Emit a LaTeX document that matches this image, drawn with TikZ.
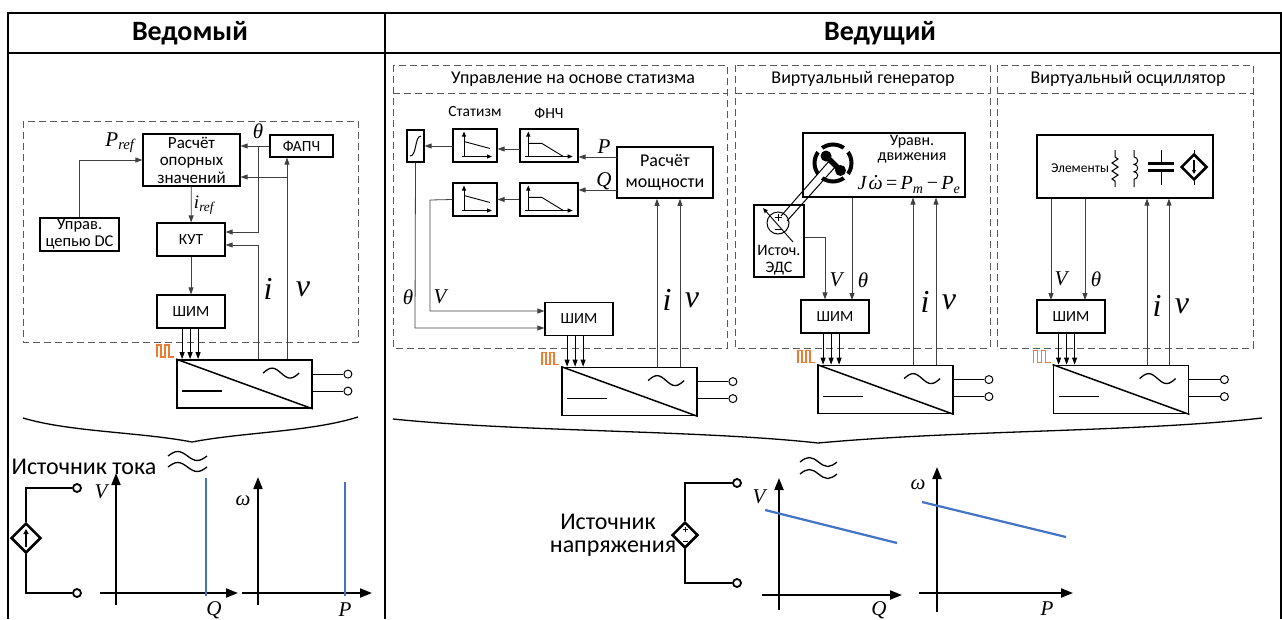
\documentclass[tikz,border=0pt]{standalone}
\usepackage{fontspec}
\setmainfont{Carlito}
\newfontfamily\tnr{Liberation Serif}
\usetikzlibrary{
  arrows.meta,
  shapes.geometric,
  chains,
  scopes,
  positioning
}
\definecolor{curveblue}{RGB}{68,114,196}
\definecolor{pulseorange}{RGB}{237,125,49}

\begin{document}
\begin{tikzpicture}[x=1pt,y=-1pt,
      block/.style={
         draw,
         line width=1.2pt,
         inner sep=1pt,
         align=center,
         font=\fontsize{15.5}{17.5}\selectfont
      },
      pwm/.style={block, minimum width=68, minimum height=33},
      icon/.style={block, minimum height=33},
      conv/.style={draw, line width=1.8pt, minimum width=135, minimum height=48, inner sep=0pt},
      panel/.style={draw=black!65, line width=0.9pt, dash pattern=on 7pt off 4pt},
      sig/.style={draw=black!75, line width=0.8pt},
      tip/.style={-{Triangle[length=7pt,width=5pt]}},
      small tip/.style={-{Triangle[length=5pt,width=4pt]}},
      axis/.style={line width=2pt, -{Triangle[length=12pt,width=9pt]}},
      term/.style={circle, draw, line width=1pt, minimum size=8pt, inner sep=0pt},
      var/.style={font=\tnr\itshape\fontsize{21}{21}\selectfont, inner sep=0pt},
      meas/.style={font=\tnr\itshape\fontsize{32}{32}\selectfont, inner sep=0pt},
      head/.style={font=\bfseries\fontsize{28}{30}\selectfont},
      title/.style={font=\fontsize{18}{20}\selectfont},
      droop line/.style={draw=curveblue, line width=2.2pt},
      every join/.style={sig},
      droop icon/.pic={
         \draw[line width=0.9pt, small tip] (-11,11) -- (-11,-14);
         \draw[line width=0.9pt, small tip] (-13,11) -- (17,11);
         \draw[line width=0.9pt] (-11,-4) -- (15,3);
      },
      lpf icon/.pic={
         \draw[line width=0.9pt, small tip] (-20.7,11) -- (-20.7,-14);
         \draw[line width=0.9pt, small tip] (-24,11) -- (23.7,11);
         \draw[line width=0.9pt] (-20.7,-2.2) -- (-7.3,-2.2) -- (14.3,11);
      }
    ]
  \useasboundingbox (0,0) rectangle (1282,619);

  % table frame
  \draw[line width=2.5pt] (8,619) -- (8,13) -- (1281,13) -- (1281,619);
  \draw[line width=2pt] (8,53) -- (1281,53);
  \draw[line width=2pt] (385,13) -- (385,619);
  \node[head] (hslave) at (190,33) {Ведомый};
  \node[head] (hmaster) at (880,33) {Ведущий};

  % ---- grid following (slave) ----
  \draw[panel] (23,121) rectangle (358,342);
  \node[block, minimum width=97, minimum height=52, font=\fontsize{17}{17.5}\selectfont] (calc) at (191.5,160) {Расчёт\\опорных\\значений};
  \node[block, minimum width=63, minimum height=22] (pll) at (301.5,146) {ФАПЧ};
  \node[block, minimum width=79, minimum height=33, font=\fontsize{16.5}{17}\selectfont] (dcc) at (79.5,234.5) {Управ.\\цепью DC};
  \node[block, minimum width=68, minimum height=33] (cc) at (191,239.5) {КУТ};
  \node[pwm] (pwm1) at (191,311.5) {ШИМ};
  \node[conv] (conv1) at (244.5,384) {};

  \draw[sig,tip] (dcc.north) |- (calc.west);
  \node[var] (pref) at (120,143) {P\textsubscript{ref}};
  \coordinate (th1) at (258,146);
  \coordinate (th1b) at (258,232);
  \draw[sig,tip] (pll.west) -- (pll.west -| calc.east);
  \draw[sig,tip] (th1) -- (th1b) -- (th1b -| cc.east);
  \node[var] (lth1) at (258,131) {θ};
  \coordinate (i1) at (258,245);
  \coordinate (v1) at (287,177);
  \draw[sig,tip] (conv1.north -| i1) -- (i1) -- (i1 -| cc.east);
  \draw[sig,tip] (conv1.north -| v1) -- (v1 |- pll.south);
  \draw[sig,tip] (v1) -- (v1 -| calc.east);
  \node[var, font=\tnr\itshape\fontsize{19}{19}\selectfont] (liref) at (204,205) {i\textsubscript{ref}};
  { [start chain]
       \chainin (calc);
       \chainin (cc)    [join=by tip];
  }
  { [start chain]
       \chainin (cc);
       \chainin (pwm1)  [join=by tip];
  }
  \node[meas] (li1) at (268,289) {i};
  \node[meas] (lv1) at (303,289) {v};

  % current source and its curves
  \draw[line width=1.3pt] (23,418) .. controls (70,432) and (140,432) .. (192,442)
                                   .. controls (244,432) and (310,432) .. (358,417);
  \node[font=\fontsize{24}{26}\selectfont] (lcs) at (84,467) {Источник тока};
  \draw[line width=1.3pt] (168,456) sin ++(9.75,-4.5) cos ++(9.75,4.5) sin ++(9.75,4.5) cos ++(9.75,-4.5);
  \draw[line width=1.3pt] (168,467) sin ++(9.75,-4.5) cos ++(9.75,4.5) sin ++(9.75,4.5) cos ++(9.75,-4.5);
  \node[diamond, draw, line width=2.5pt, minimum width=30, minimum height=30, inner sep=0pt] (isrc) at (26,538) {};
  \draw[line width=1.6pt, -{Triangle[length=5pt,width=5pt]}] (26,547) -- (26,529);
  \node[term, line width=1.8pt] (ita) at (77,488) {};
  \node[term, line width=1.8pt] (itb) at (77,593) {};
  \draw[line width=2pt] (ita) -| (isrc);
  \draw[line width=2pt] (itb) -| (isrc);
  \draw[axis] (116,605) -- (116,473);
  \draw[axis] (100,593) -- (238,593);
  \node[var] (lV1) at (101,492) {V};
  \node[var] (lQ1) at (214,610) {Q};
  \draw[droop line] (206,478) -- (206,596);
  \draw[axis] (258,605) -- (258,477);
  \draw[axis] (242,593) -- (372,593);
  \node[var] (lw1) at (243,501) {ω};
  \node[var] (lP1) at (345,610) {P};
  \draw[droop line] (345,482) -- (345,596);

  % ---- droop control ----
  \draw[panel] (393,65) rectangle (727,348);
  \draw[panel] (393,93) -- (727,93);
  \node[title] (tdroop) at (573,79) {Управление на основе статизма};
  \node[font=\fontsize{15.5}{17}\selectfont] (ldr) at (475,112) {Статизм};
  \node[font=\fontsize{15.5}{17}\selectfont] (llpf) at (549,113) {ФНЧ};
  \node[block, minimum width=17, minimum height=32, inner sep=0pt] (integ) at (415.5,146) {};
  \draw[line width=1pt] (410,156) .. controls (417,156) and (414.5,136) .. (421,136);
  \node[icon, minimum width=44] (dr1) at (475,145.5) {};
  \node[icon, minimum width=58] (lpf1) at (549,145.5) {};
  \node[icon, minimum width=44] (dr2) at (475,199.5) {};
  \node[icon, minimum width=58] (lpf2) at (549,199.5) {};
  \pic at (dr1) {droop icon};
  \pic at (dr2) {droop icon};
  \pic at (lpf1) {lpf icon};
  \pic at (lpf2) {lpf icon};
  \node[block, line width=1.6pt, minimum width=96, minimum height=51, font=\fontsize{18}{21}\selectfont] (pcalc) at (665,172.5) {Расчёт\\мощности};
  \node[pwm] (pwm2) at (579,319) {ШИМ};
  \node[conv] (conv2) at (629.5,391.5) {};

  \coordinate (pP) at (617,157);
  \coordinate (pQ) at (617,190);
  \coordinate (l1) at (520,149);
  \coordinate (d1) at (453,146);
  \draw[sig,tip] (pP) -- (pP -| lpf1.east);
  \draw[sig,tip] (pQ) -- (pQ -| lpf2.east);
  \draw[sig,tip] (l1) -- (l1 -| dr1.east);
  \draw[sig,tip] (d1) -- (d1 -| integ.east);
  { [start chain]
       \chainin (lpf2);
       \chainin (dr2)   [join=by tip];
  }
  \node[var] (lP2) at (604,147) {P};
  \node[var] (lQ2) at (604,181) {Q};
  \coordinate (vb) at (430,200);
  \coordinate (vc) at (430,311);
  \coordinate (tc) at (415,328);
  \draw[sig,tip] (dr2.west) -- (vb) -- (vc) -- (vc -| pwm2.west);
  \draw[sig,tip] (integ.south) -- (tc) -- (tc -| pwm2.west);
  \node[var] (lth2) at (408,297) {θ};
  \node[var] (lV2) at (440,297) {V};
  \coordinate (i2) at (657,367);
  \coordinate (v2) at (680,367);
  \draw[sig,tip] (i2) -- (i2 |- pcalc.south);
  \draw[sig,tip] (v2) -- (v2 |- pcalc.south);
  \node[meas] (li2) at (667,300) {i};
  \node[meas] (lv2) at (692,300) {v};

  % ---- virtual generator ----
  \draw[panel] (735,65) rectangle (990,348);
  \draw[panel] (735,93) -- (990,93);
  \node[title] (tvg) at (863,79) {Виртуальный генератор};
  \node[block, minimum width=162, minimum height=64] (eq) at (884,165) {};
  \node[align=center, font=\fontsize{16}{14.5}\selectfont, inner sep=0pt] (eqtxt) at (912,149)
       {Уравн.\\движения};
  \node[font=\tnr\itshape\fontsize{20}{20}\selectfont, inner sep=0pt] (eqlaw) at (909,185)
       {J\kern0.1emω\kern-0.43em\smash{\raisebox{0.6em}{.}}\kern0.18em\,{\upshape=}\,P\textsubscript{m}\,{\upshape−}\,P\textsubscript{e}};
  \node[block, minimum width=50, minimum height=72] (emf) at (779,241) {};
  \node[font=\fontsize{16}{17}\selectfont, align=center, inner sep=0pt] (emftxt) at (779,260) {Источ.\\ЭДС};
  \node[circle, draw, line width=1pt, minimum size=22pt, inner sep=0pt] (emfc) at (778,223) {};
  \draw[line width=1pt] (774.5,217) -- (781.5,217) (778,213.5) -- (778,220.5);
  \draw[line width=1pt] (774.5,229) -- (781.5,229);
  \draw[line width=0.9pt, small tip] (793,242) -- (763,208);
  % rotor and shaft
  \draw[line width=1pt] (836,166) -- (787,221);
  \draw[line width=1pt] (830,160) -- (781,216);
  \draw[line width=4pt, dash pattern=on 23pt off 6pt, dash phase=11.5pt] (833,163) circle (18.5);
  \draw[line width=5.5pt] (827,157) -- (840,170);
  \fill (826,156) circle (5.5);
  \fill (840.5,170.5) circle (5.5);
  \node[pwm] (pwm3) at (835,316.5) {ШИМ};
  \node[conv] (conv3) at (885.5,389.5) {};
  \coordinate (vg) at (825,237);
  \coordinate (tg) at (852,300);
  \draw[sig,tip] (vg -| emf.east) -- (vg) -- (vg |- pwm3.north);
  \draw[sig,tip] (eq.south -| tg) -- (tg);
  \node[var] (lV3) at (836,280) {V};
  \node[var] (lth3) at (863,280) {θ};
  \coordinate (i3) at (913,365);
  \coordinate (v3) at (936,365);
  \draw[sig,tip] (i3) -- (i3 |- eq.south);
  \draw[sig,tip] (v3) -- (v3 |- eq.south);
  \node[meas] (li3) at (925,302) {i};
  \node[meas] (lv3) at (949,302) {v};

  % ---- virtual oscillator ----
  \draw[panel] (997,65) rectangle (1253,348);
  \draw[panel] (997,93) -- (1253,93);
  \node[title] (tvo) at (1128,79) {Виртуальный осциллятор};
  \node[block, minimum width=176, minimum height=63] (elem) at (1125,166.5) {};
  \node[font=\fontsize{13.5}{15}\selectfont, inner sep=0pt] (lelem) at (1080,168) {Элементы};
  % resistor
  \draw[line width=1pt] (1115,150) -- (1115,157) -- (1118,159) -- (1112,163) -- (1118,167)
       -- (1112,171) -- (1118,175) -- (1112,179) -- (1115,181) -- (1115,187);
  % inductor
  \draw[line width=1pt] (1134,150) -- (1134,157)
       arc[start angle=-90, end angle=90, radius=3.7]
       arc[start angle=-90, end angle=90, radius=3.7]
       arc[start angle=-90, end angle=90, radius=3.7] -- (1134,187);
  % capacitor
  \draw[line width=1pt] (1161,150) -- (1161,163);
  \draw[line width=1pt] (1161,170) -- (1161,185);
  \draw[line width=3pt] (1148,163) -- (1174,163);
  \draw[line width=3pt] (1148,170) -- (1174,170);
  % controlled current source
  \node[diamond, draw, line width=2.5pt, minimum width=26, minimum height=26, inner sep=0pt] (esrc) at (1194,167) {};
  \draw[line width=1pt] (1194,150) -- (esrc.north);
  \draw[line width=1pt] (esrc.south) -- (1194,185);
  \draw[line width=1.3pt, -{Triangle[length=4pt,width=4pt]}] (1194,160) -- (1194,174);
  \node[pwm] (pwm4) at (1071,316.5) {ШИМ};
  \node[conv] (conv4) at (1121,389.5) {};
  \coordinate (vo) at (1051,300);
  \coordinate (to) at (1085,300);
  \draw[sig,tip] (elem.south -| vo) -- (vo);
  \draw[sig,tip] (elem.south -| to) -- (to);
  \node[var] (lV4) at (1061,279) {V};
  \node[var] (lth4) at (1096,279) {θ};
  \coordinate (i4) at (1147,365);
  \coordinate (v4) at (1169,365);
  \draw[sig,tip] (i4) -- (i4 |- elem.south);
  \draw[sig,tip] (v4) -- (v4 |- elem.south);
  \node[meas] (li4) at (1157,306) {i};
  \node[meas] (lv4) at (1182,306) {v};

  % converters, gate pulses, terminals
  \foreach \n in {1,2,3,4}{
    \draw[line width=1.5pt] (conv\n.north west) -- (conv\n.south east);
    \draw[line width=1.5pt] ([shift={(6,32)}]conv\n.north west) -- ++(40,0);
    \draw[line width=1.3pt] ([shift={(87,14)}]conv\n.north west) sin ++(9,-5) cos ++(9,5) sin ++(9,5) cos ++(9,-5);
    \node[term] (ta\n) at ([shift={(35,15)}]conv\n.north east) {};
    \node[term] (tb\n) at ([shift={(35,32)}]conv\n.north east) {};
    \draw[line width=1pt] (conv\n.east |- ta\n) -- (ta\n);
    \draw[line width=1pt] (conv\n.east |- tb\n) -- (tb\n);
    \draw[pulseorange, line width=1.4pt] ([shift={(-19,-2)}]conv\n.north west)
         -- ++(0,-12) -- ++(4,0) -- ++(0,12) -- ++(4,0) -- ++(0,-12) -- ++(4,0) -- ++(0,12) -- ++(5,0);
    \foreach \dx in {6,14,22}{
      \coordinate (g\n) at ([xshift=\dx]conv\n.north west);
      \draw[line width=0.9pt, tip] (g\n |- pwm\n.south) -- (g\n);
    }
  }

  % voltage source and its curves
  \draw[line width=1.3pt] (393,419) .. controls (520,432) and (700,430) .. (818,443)
                                   .. controls (960,430) and (1140,432) .. (1262,418);
  \draw[line width=1.3pt] (800,462) sin ++(9.25,-4.5) cos ++(9.25,4.5) sin ++(9.25,4.5) cos ++(9.25,-4.5);
  \draw[line width=1.3pt] (800,474) sin ++(9.25,-4.5) cos ++(9.25,4.5) sin ++(9.25,4.5) cos ++(9.25,-4.5);
  \node[font=\fontsize{24}{26}\selectfont, inner sep=0pt] (lvs1) at (608,522) {Источник};
  \node[font=\fontsize{24}{26}\selectfont, inner sep=0pt] (lvs2) at (613,549) {напряжения};
  \node[diamond, draw, line width=2.5pt, minimum width=26, minimum height=26, inner sep=0pt] (vsrc) at (685,535) {};
  \draw[line width=1pt] (682.5,529.5) -- (687.5,529.5) (685,527) -- (685,532);
  \draw[line width=1pt] (682.5,541) -- (687.5,541);
  \node[term, line width=1.8pt] (vta) at (737,483) {};
  \node[term, line width=1.8pt] (vtb) at (737,583) {};
  \draw[line width=2pt] (vta) -| (vsrc);
  \draw[line width=2pt] (vtb) -| (vsrc);
  \draw[axis] (779,610) -- (779,478);
  \draw[axis] (762,595) -- (902,595);
  \node[var] (lV5) at (759,497) {V};
  \node[var] (lQ5) at (879,610) {Q};
  \draw[droop line] (765,510) -- (897,543);
  \draw[axis] (937,612) -- (937,467);
  \draw[axis] (919,593) -- (1073,593);
  \node[var] (lw5) at (918,485) {ω};
  \node[var] (lP5) at (1047,609) {P};
  \draw[droop line] (922,502) -- (1066,537);
\end{tikzpicture}
\end{document}
